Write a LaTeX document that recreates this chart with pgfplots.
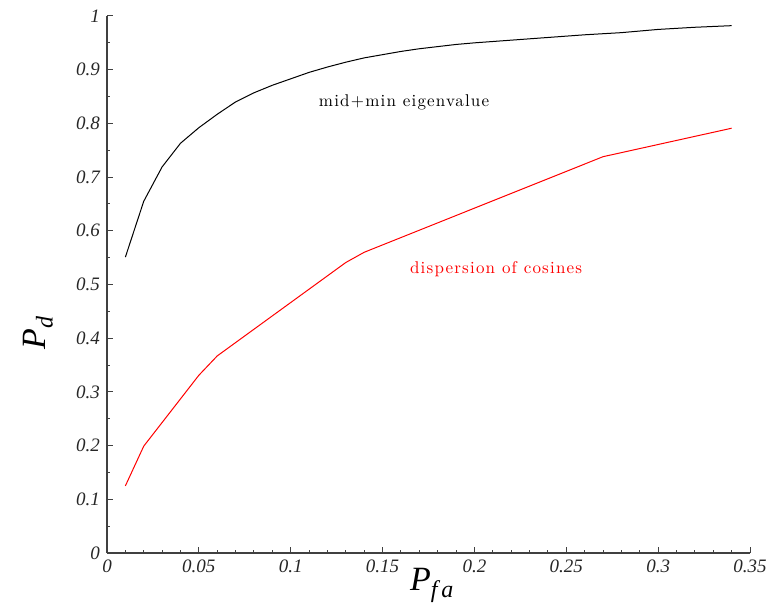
\documentclass[border=0pt]{standalone}
\usepackage{fontspec}
\usepackage{pgfplots}
\pgfplotsset{compat=1.18}
\newfontfamily\timesfont{Liberation Serif}
\newfontfamily\spacedfont{lmroman10-regular.otf}[LetterSpace=7]
\newcommand\spaced{\spacedfont\fontsize{8.5}{9}\selectfont}
\begin{document}
\begin{tikzpicture}
\begin{axis}[
  scale only axis,
  width=321.5pt, height=268.5pt,
  xmin=0, xmax=0.35, ymin=0, ymax=1,
  axis line style={draw=black!75, line width=0.6pt},
  axis x line*=bottom, axis y line*=left,
  tick align=inside,
  xtick={0,0.05,...,0.35}, ytick={0,0.1,...,1},
  minor x tick num=4, minor y tick num=1,
  major tick length=3pt, minor tick length=1.6pt,
  tick style={black!75, line width=0.5pt},
  xticklabel={\pgfmathprintnumber[fixed,precision=2,assume math mode=true]{\tick}},
  yticklabel={\pgfmathprintnumber[fixed,precision=2,assume math mode=true]{\tick}},
  ticklabel style={font=\timesfont\itshape\fontsize{9.5}{10}\selectfont, black!85},
  xlabel={\timesfont\itshape\fontsize{17}{18}\selectfont P\raisebox{-0.45ex}{\fontsize{12}{12}\selectfont f\,a}},
  ylabel={\timesfont\itshape\fontsize{17}{18}\selectfont P\raisebox{-0.45ex}{\fontsize{12}{12}\selectfont d}},
  xlabel style={at={(axis description cs:0.505,-0.06)}, anchor=center},
  ylabel style={at={(axis description cs:-0.107,0.41)}, anchor=center},
]
\addplot[black, line width=0.5pt] coordinates {
(0.01,0.551) (0.02,0.655) (0.03,0.719) (0.04,0.763) (0.05,0.792)
(0.06,0.817) (0.07,0.840) (0.08,0.857) (0.09,0.871) (0.10,0.883)
(0.11,0.895) (0.12,0.905) (0.13,0.914) (0.14,0.922) (0.15,0.928)
(0.16,0.934) (0.17,0.939) (0.18,0.943) (0.19,0.947) (0.20,0.950)
(0.22,0.955) (0.24,0.960) (0.26,0.965) (0.28,0.969) (0.30,0.975)
(0.32,0.979) (0.34,0.982)
};
\addplot[red, line width=0.5pt] coordinates {
(0.01,0.125) (0.02,0.199) (0.05,0.331) (0.06,0.367) (0.13,0.541)
(0.14,0.560) (0.27,0.738) (0.34,0.791)
};
\node[black] at (axis cs:0.1617,0.840) {\spaced mid+min eigenvalue};
\node[red] at (axis cs:0.2118,0.529) {\spaced dispersion of cosines};
\coordinate (sw) at (rel axis cs:0,0);
\coordinate (ne) at (rel axis cs:1,1);
\end{axis}
\pgfresetboundingbox
\path[use as bounding box] ([shift={(-53.5pt,-25.5pt)}]sw) rectangle ([shift={(9pt,8pt)}]ne);
\end{tikzpicture}
\end{document}
